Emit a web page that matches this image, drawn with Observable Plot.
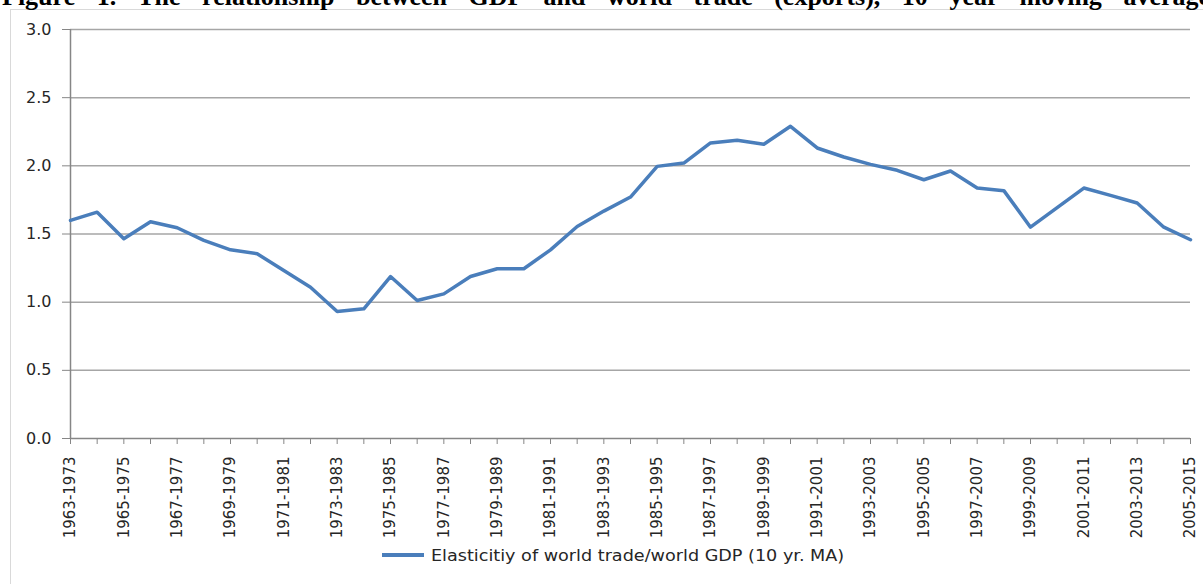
<!DOCTYPE html>
<html>
<head>
<meta charset="utf-8">
<script src="https://cdn.jsdelivr.net/npm/d3@7"></script>
<script src="https://cdn.jsdelivr.net/npm/@observablehq/plot@0.6"></script>
<style>
  html, body { margin: 0; padding: 0; background: #fff; }
  #wrap { position: relative; width: 1203px; height: 584px; overflow: hidden; background: #fff; }
  #frame { position: absolute; left: 10px; top: 9px; width: 1300px; height: 700px;
           border-left: 1px solid #d9d9d9; border-top: 1px solid #d9d9d9; }
  #title { position: absolute; left: 2px; top: -16px; width: 1208px; height: 26px; line-height: 26px;
           font-family: "Liberation Serif", serif; font-weight: bold; font-size: 26px; color: #000;
           text-align: justify; text-align-last: justify; white-space: normal; }
  #chart { position: absolute; left: 0; top: 0; }
  #legend { position: absolute; left: 382px; top: 545px; height: 20px; display: flex; align-items: center;
            font-family: "DejaVu Sans", sans-serif; font-size: 16px; color: #262626; white-space: nowrap; }
  #legend .swatch { width: 42px; height: 3.5px; background: #4a7ebb; margin-right: 7px; }
  #legendText { display: inline-block; transform: scaleX(1.10); transform-origin: left center; }
</style>
</head>
<body>
<div id="wrap">
  <div id="frame"></div>
  <div id="title">Figure 1. The relationship between GDP and world trade (exports), 10 year moving average</div>
  <div id="chart"></div>
  <div id="legend"><span class="swatch"></span><span id="legendText"></span></div>
</div>
<script>
const periods = [
  "1963-1973","1964-1974","1965-1975","1966-1976","1967-1977","1968-1978","1969-1979","1970-1980",
  "1971-1981","1972-1982","1973-1983","1974-1984","1975-1985","1976-1986","1977-1987","1978-1988",
  "1979-1989","1980-1990","1981-1991","1982-1992","1983-1993","1984-1994","1985-1995","1986-1996",
  "1987-1997","1988-1998","1989-1999","1990-2000","1991-2001","1992-2002","1993-2003","1994-2004",
  "1995-2005","1996-2006","1997-2007","1998-2008","1999-2009","2000-2010","2001-2011","2002-2012",
  "2003-2013","2004-2014","2005-2015"
];
const elasticity = [
  1.60, 1.66, 1.465, 1.59, 1.546, 1.453, 1.384, 1.355,
  1.232, 1.11, 0.931, 0.951, 1.188, 1.012, 1.061, 1.188,
  1.245, 1.245, 1.384, 1.555, 1.668, 1.771, 1.996, 2.02,
  2.168, 2.187, 2.158, 2.29, 2.131, 2.065, 2.011, 1.967,
  1.898, 1.962, 1.837, 1.818, 1.55, 1.693, 1.837, 1.783,
  1.727, 1.55, 1.458
];
const yTicks = [0, 0.5, 1.0, 1.5, 2.0, 2.5, 3.0];
const seriesName = "Elasticitiy of world trade/world GDP (10 yr. MA)";

const data = periods.map((p, i) => ({index: i, period: p, value: elasticity[i]}));
const xIndex = periods.map((p, i) => i);

const axisGray = "#868686";
const gridGray = "#a6a6a6";

const chart = Plot.plot({
  width: 1203,
  height: 584,
  marginLeft: 70,
  marginRight: 13,
  marginTop: 29,
  marginBottom: 146,
  style: {fontFamily: "DejaVu Sans, sans-serif", fontSize: "14px", color: "#262626", background: "transparent"},
  x: {type: "linear", domain: [0, periods.length - 1], label: null},
  y: {domain: [0, 3], label: null},
  marks: [
    Plot.gridY(yTicks.filter(d => d > 0), {stroke: gridGray, strokeOpacity: 1, strokeWidth: 1.5}),
    Plot.ruleY([0], {stroke: axisGray, strokeWidth: 1.5}),
    Plot.ruleX([0], {stroke: axisGray, strokeWidth: 1.5}),
    Plot.axisY({ticks: yTicks, tickSize: 8, tickPadding: 11, stroke: axisGray, tickFormat: d3.format(".1f"), fontSize: 16, label: null}),
    Plot.axisX({ticks: xIndex, tickSize: 6, tickPadding: 12, stroke: axisGray, tickRotate: -90, fontSize: 15,
      tickFormat: (i) => i % 2 === 0 ? periods[i] : "", label: null}),
    Plot.line(data, {x: "index", y: "value", stroke: "#4a7ebb", strokeWidth: 3.5, strokeLinejoin: "round", strokeLinecap: "round"})
  ]
});
document.getElementById("chart").appendChild(chart);
document.getElementById("legendText").textContent = seriesName;
</script>
</body>
</html>
